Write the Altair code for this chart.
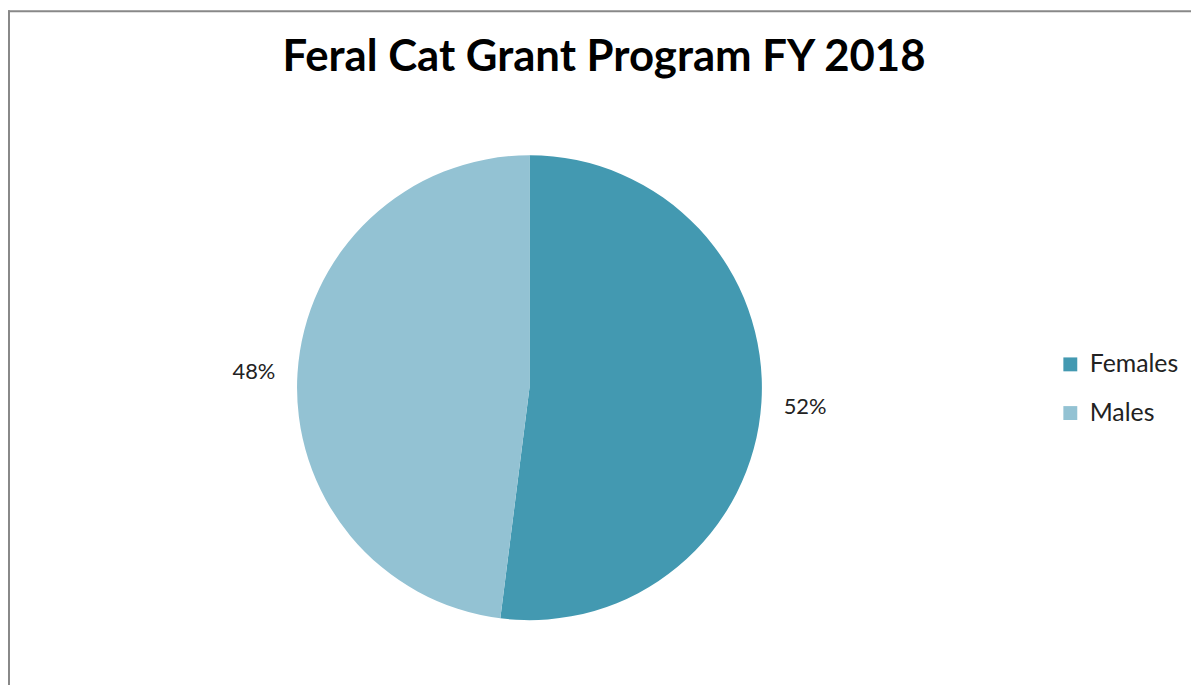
import altair as alt
import pandas as pd

title_text = ["Feral Cat Grant Program FY 2018"]
categories = ["Females", "Males"]
percent = [52, 48]
colors = ["#4399B1", "#93C2D3"]

df = pd.DataFrame({"group": categories, "value": percent, "order": [0, 1]})
df["label"] = df["value"].astype(str) + "%"

FONT = "Lato"
CX, CY = 525, 290

base = alt.Chart(df).encode(
    theta=alt.Theta("value:Q", stack=True),
    order=alt.Order("order:Q"),
)

pie = base.mark_arc(outerRadius=234).encode(
    color=alt.Color(
        "group:N",
        scale=alt.Scale(domain=categories, range=colors),
        legend=alt.Legend(
            title=None,
            orient="none",
            legendX=1057,
            legendY=254,
            symbolType="square",
            symbolSize=196,
            symbolStrokeWidth=0,
            labelFontSize=25,
            labelFont=FONT,
            labelColor="#222222",
            labelOffset=7,
            rowPadding=23,
        ),
    ),
    x=alt.value(CX),
    y=alt.value(CY),
)

labels = base.mark_text(radius=278, fontSize=22, font=FONT, color="#222222", dy=2).encode(
    text="label:N",
    x=alt.value(CX),
    y=alt.value(CY),
)

title_df = pd.DataFrame({"t": title_text})
title = alt.Chart(title_df).mark_text(
    font=FONT, fontSize=44, fontWeight="bold", color="#000000",
    align="center", baseline="alphabetic",
).encode(text="t:N", x=alt.value(600), y=alt.value(-29))

frame_df = pd.DataFrame({"k": [0]})
top_rule = alt.Chart(frame_df).mark_rule(color="#888888", strokeWidth=2).encode(
    x=alt.value(0), x2=alt.value(1191), y=alt.value(-89)
)
left_rule = alt.Chart(frame_df).mark_rule(color="#888888", strokeWidth=2).encode(
    x=alt.value(1), y=alt.value(-90), y2=alt.value(590)
)

chart = (
    alt.layer(top_rule, left_rule, title, pie, labels)
    .properties(
        width=1191,
        height=587,
        padding={"left": 0, "top": 90, "right": 0, "bottom": 0},
        autosize=alt.AutoSizeParams(type="none"),
        background="white",
    )
    .configure_view(stroke=None)
)

chart.save("out.html", embed_options={"renderer": "svg", "actions": False})
